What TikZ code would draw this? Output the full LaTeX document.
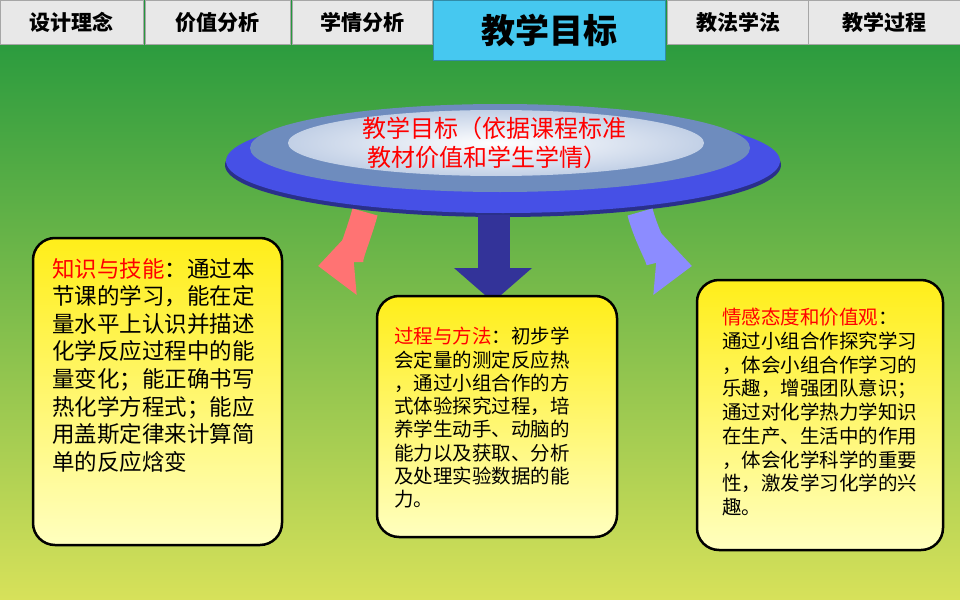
\documentclass[tikz,border=0pt]{standalone}
\usepackage{fontspec}
\setmainfont{Noto Sans CJK SC}
\usetikzlibrary{arrows.meta,shadows}
\definecolor{gtop}{RGB}{30,150,60}
\definecolor{gbot}{RGB}{215,225,90}
\definecolor{tabg}{RGB}{232,232,232}
\definecolor{tabc}{RGB}{70,200,240}
\definecolor{ellb}{RGB}{70,80,230}
\definecolor{ellin}{RGB}{110,140,190}
\definecolor{elll}{RGB}{215,225,240}
\begin{document}
\begin{tikzpicture}[x=1pt,y=1pt,
  tab/.style={draw=gray!70,fill=tabg,anchor=north west,inner sep=0pt,font=\bfseries\fontsize{21}{21}\selectfont},
  goal/.style={draw=black,line width=2.5pt,rounded corners=22pt,top color=yellow!85!orange!90,bottom color=yellow!25!white},
  txt/.style={anchor=north west,align=left,inner sep=0pt},
  lbl/.style={text=red}]
\useasboundingbox (0,0) rectangle (960,-599);
\shade[top color=gtop,bottom color=gbot] (0,0) rectangle (960,-599);
\node[tab,minimum width=143pt,minimum height=44pt] (t1) at (0,0) {设计理念};
\node[tab,minimum width=145pt,minimum height=44pt] (t2) at (145,0) {价值分析};
\node[tab,minimum width=140pt,minimum height=44pt] (t3) at (292,0) {学情分析};
\node[tab,minimum width=142pt,minimum height=44pt] (t5) at (667,0) {教法学法};
\node[tab,minimum width=152pt,minimum height=44pt] (t6) at (808,0) {教学过程};
\node[tab,fill=tabc,draw=tabc!70!black,minimum width=232pt,minimum height=60pt,font=\bfseries\fontsize{34}{34}\selectfont] (t4) at (433,0) {教学目标};
% ellipse
\fill[ellb!60!black] (503,-165) ellipse [x radius=278pt,y radius=52pt];
\fill[ellb] (503,-161) ellipse [x radius=277pt,y radius=52pt];
\fill[ellin] (500,-148) ellipse [x radius=250pt,y radius=44pt];
\shade[inner color=white,outer color=elll!80!ellin] (496,-143) ellipse [x radius=208pt,y radius=33pt];
\node[text=red,align=left,font=\fontsize{24}{29}\selectfont] (e) at (494,-143) {教学目标（依据课程标准\\\ 教材价值和学生学情）};
% arrows
\draw[line width=26pt,draw=red!55!white,-{Triangle[width=62pt,length=36pt]}] (365,-212) to[out=255,in=5] (318,-266) coordinate (la);
\fill[blue!50!black!80] (478,-215) rectangle (510,-268);
\fill[blue!50!black!80] (454,-268) -- (532,-268) -- (493,-302) -- cycle;
\coordinate (ma) at (493,-302);
\draw[line width=26pt,draw=blue!45!white,-{Triangle[width=62pt,length=36pt]}] (640,-212) to[out=285,in=175] (692,-266) coordinate (ra);
% boxes
\draw[goal] (33,-238) rectangle (282,-545);
\node[txt,font=\fontsize{22.5}{27.6}\selectfont] (b1) at (52,-258) {{\color{red}知识与技能}：通过本\\节课的学习，能在定\\量水平上认识并描述\\化学反应过程中的能\\量变化；能正确书写\\热化学方程式；能应\\用盖斯定律来计算简\\单的反应焓变};
\draw[goal] (377,-296) rectangle (617,-537);
\node[txt,font=\fontsize{19.5}{23.3}\selectfont] (b2) at (394,-327) {{\color{red}过程与方法}：初步学\\会定量的测定反应热\\，通过小组合作的方\\式体验探究过程，培\\养学生动手、动脑的\\能力以及获取、分析\\及处理实验数据的能\\力。};
\draw[goal] (697,-280) rectangle (943,-550);
\node[txt,font=\fontsize{19.5}{23.75}\selectfont] (b3) at (722,-308) {{\color{red}情感态度和价值观}：\\通过小组合作探究学习\\，体会小组合作学习的\\乐趣，增强团队意识；\\通过对化学热力学知识\\在生产、生活中的作用\\，体会化学科学的重要\\性，激发学习化学的兴\\趣。};
\end{tikzpicture}
\end{document}
